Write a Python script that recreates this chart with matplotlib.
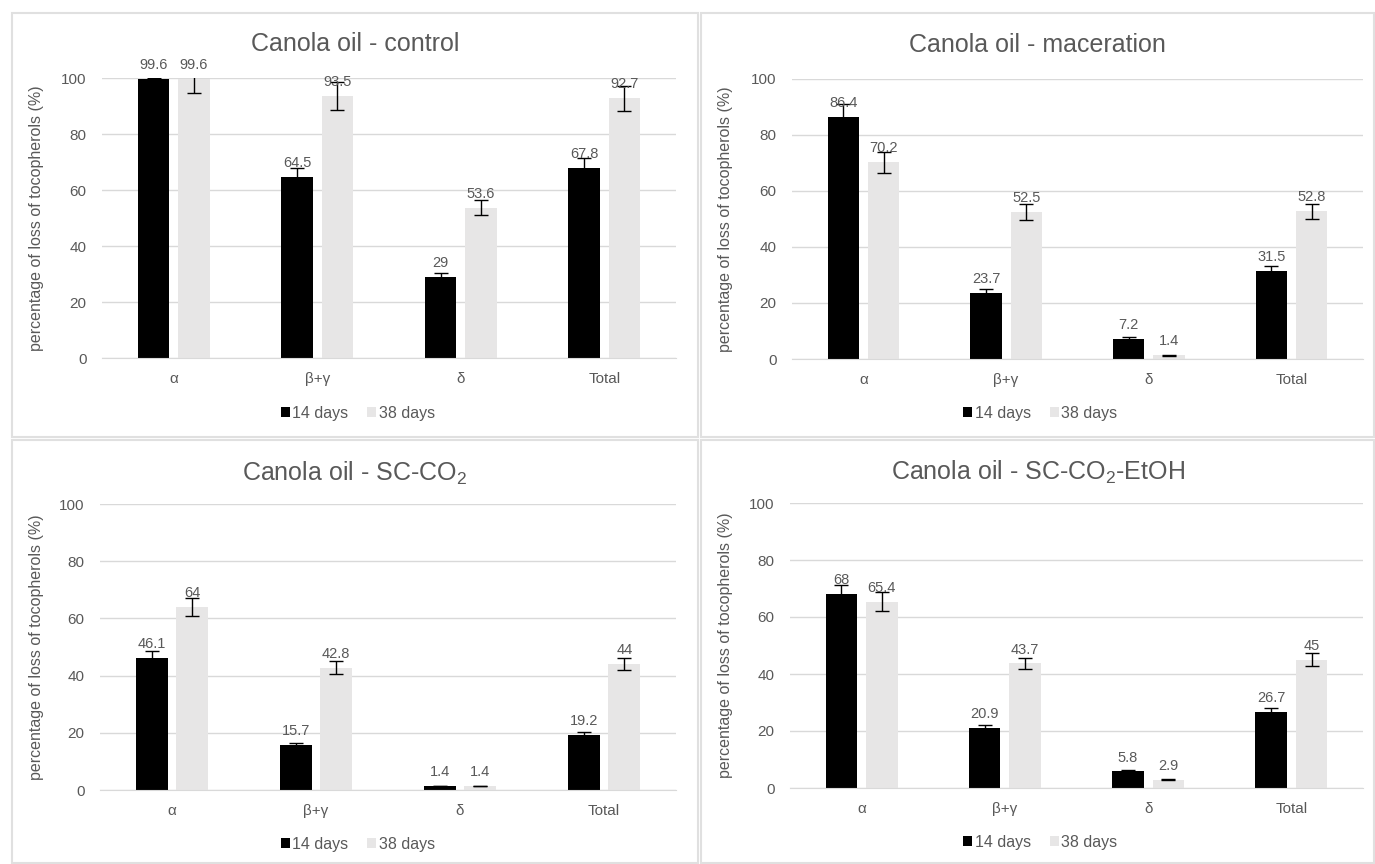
import matplotlib
matplotlib.use('Agg')
import numpy as np
import matplotlib.pyplot as plt
from matplotlib.patches import Rectangle

plt.rcParams['font.family'] = ['Liberation Sans', 'DejaVu Sans']

categories = ['α', 'β+γ', 'δ', 'Total']
series_names = ['14 days', '38 days']

titles = ['Canola oil - control',
          'Canola oil - maceration',
          r'Canola oil - SC-CO$_{\mathregular{2}}$',
          r'Canola oil - SC-CO$_{\mathregular{2}}$-EtOH']

control_14 = [99.6, 64.5, 29, 67.8]
control_38 = [99.6, 93.5, 53.6, 92.7]
control_14_err = [0.4, 3.2, 1.5, 3.5]
control_38_err = [4.8, 4.9, 2.7, 4.5]

maceration_14 = [86.4, 23.7, 7.2, 31.5]
maceration_38 = [70.2, 52.5, 1.4, 52.8]
maceration_14_err = [4.6, 1.2, 0.5, 1.8]
maceration_38_err = [3.6, 2.7, 0.2, 2.7]

scco2_14 = [46.1, 15.7, 1.4, 19.2]
scco2_38 = [64, 42.8, 1.4, 44]
scco2_14_err = [2.4, 0.9, 0.1, 1.2]
scco2_38_err = [3.1, 2.2, 0.1, 2.1]

etoh_14 = [68, 20.9, 5.8, 26.7]
etoh_38 = [65.4, 43.7, 2.9, 45]
etoh_14_err = [3.1, 1.2, 0.4, 1.3]
etoh_38_err = [3.2, 2.0, 0.2, 2.3]

W, H = 1375, 864
TEXT = '#595959'
GRID = '#d9d9d9'
BLACK = '#000000'
GRAY = '#e7e6e6'

fig = plt.figure(figsize=(W / 100, H / 100), dpi=100)
fig.patch.set_facecolor('white')

# pixel layout: panel box, plot area, title y, legend y
panels = [
    dict(box=(12, 13, 698, 437), area=(102, 78, 676, 358), title_y=44, legend_y=413,
         data=(control_14, control_38, control_14_err, control_38_err)),
    dict(box=(701, 13, 1374, 437), area=(792, 79, 1363, 359), title_y=45, legend_y=413,
         data=(maceration_14, maceration_38, maceration_14_err, maceration_38_err)),
    dict(box=(12, 440, 698, 863), area=(100, 504, 676, 790), title_y=473, legend_y=844,
         data=(scco2_14, scco2_38, scco2_14_err, scco2_38_err)),
    dict(box=(701, 440, 1374, 863), area=(790, 503, 1363, 788), title_y=472, legend_y=842,
         data=(etoh_14, etoh_38, etoh_14_err, etoh_38_err)),
]

x = np.arange(len(categories))
bw = 0.22
off = 0.141

for p, title in zip(panels, titles):
    bx0, by0, bx1, by1 = p['box']
    fig.patches.append(Rectangle((bx0 / W, 1 - by1 / H), (bx1 - bx0) / W, (by1 - by0) / H,
                                 transform=fig.transFigure, facecolor='none',
                                 edgecolor='#e0e0e0', linewidth=1.5))

    x0, y0, x1, y1 = p['area']
    ax = fig.add_axes([x0 / W, 1 - y1 / H, (x1 - x0) / W, (y1 - y0) / H])
    v14, v38, e14, e38 = p['data']

    b1 = ax.bar(x - off, v14, bw, color=BLACK, zorder=2, label=series_names[0])
    b2 = ax.bar(x + off, v38, bw, color=GRAY, zorder=2, label=series_names[1])
    ax.errorbar(x - off, v14, yerr=e14, fmt='none', ecolor='black', elinewidth=1,
                capsize=5, capthick=1, zorder=3)
    ax.errorbar(x + off, v38, yerr=e38, fmt='none', ecolor='black', elinewidth=1,
                capsize=5, capthick=1, zorder=3)

    # value labels sit just above the bar top (not above the error bar)
    for xs, vals in ((x - off, v14), (x + off, v38)):
        for xi, v in zip(xs, vals):
            ax.annotate(f'{v:g}', (xi, v), xytext=(0, 5), textcoords='offset points',
                        ha='center', va='bottom', fontsize=10.5, color=TEXT)

    ax.set_xlim(-0.5, len(categories) - 0.5)
    ax.set_ylim(0, 100)
    ax.set_yticks(range(0, 101, 20))
    ax.set_xticks(x)
    ax.set_xticklabels(categories)
    ax.tick_params(axis='both', length=0, labelsize=11, colors=TEXT)
    ax.tick_params(axis='y', pad=11)
    ax.tick_params(axis='x', pad=10)
    ax.grid(axis='y', color=GRID, linewidth=1, zorder=0)
    ax.set_axisbelow(True)
    for s in ('top', 'right', 'left'):
        ax.spines[s].set_visible(False)
    ax.spines['bottom'].set_color(GRID)
    ax.set_facecolor('none')

    ax.set_ylabel('percentage of loss of tocopherols (%)', fontsize=11.5, color=TEXT)
    ax.yaxis.set_label_coords(-(x0 - bx0 - 32) / (x1 - x0), 0.5)

    cx = (bx0 + bx1) / 2 / W
    fig.text(cx, 1 - p['title_y'] / H, title, ha='center', va='center',
             fontsize=18, color=TEXT)
    fig.legend(handles=[b1, b2], loc='center', bbox_to_anchor=(cx + 0.002, 1 - p['legend_y'] / H),
               ncol=2, frameon=False, fontsize=11.5, labelcolor=TEXT,
               handlelength=0.55, handleheight=0.55, handletextpad=0.15,
               columnspacing=1.2, borderpad=0)

fig.savefig('out.png', dpi=100)
